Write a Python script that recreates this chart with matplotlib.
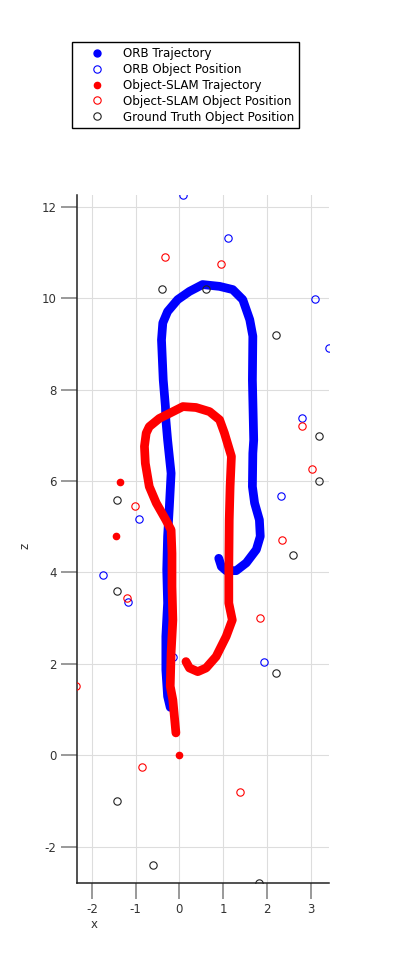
import numpy as np
import matplotlib
matplotlib.use('Agg')
import matplotlib.pyplot as plt

plt.rcParams['axes.unicode_minus'] = False

# ORB trajectory (x, z)
orb_x = [-0.21, -0.27, -0.31, -0.31, -0.27, -0.29, -0.27, -0.23, -0.19, -0.27, -0.31, -0.32,
         -0.37, -0.41, -0.38, -0.27, -0.04, 0.23, 0.53, 0.92, 1.22, 1.45, 1.61, 1.68,
         1.67, 1.70, 1.68, 1.67, 1.72, 1.83, 1.85, 1.76, 1.53, 1.30, 1.07, 0.96, 0.90]
orb_z = [1.05, 1.29, 1.87, 2.60, 3.33, 4.06, 4.79, 5.44, 6.17, 6.90, 7.34, 7.63,
         8.21, 9.09, 9.46, 9.71, 9.97, 10.15, 10.30, 10.26, 10.19, 9.97, 9.53, 9.17,
         8.21, 6.90, 6.61, 5.88, 5.52, 5.15, 4.79, 4.50, 4.21, 4.04, 4.04, 4.13, 4.31]

# Object-SLAM trajectory (x, z)
slam_x = [-0.08, -0.15, -0.21, -0.19, -0.15, -0.17, -0.17, -0.19, -0.31, -0.53, -0.69,
          -0.78, -0.80, -0.76, -0.69, -0.46, -0.23, 0.08, 0.38, 0.69, 0.92, 1.03,
          1.19, 1.16, 1.14, 1.13, 1.13, 1.21, 1.07, 0.84, 0.61, 0.42, 0.23, 0.15]
slam_z = [0.49, 1.21, 1.51, 2.24, 2.96, 3.69, 4.42, 4.93, 5.15, 5.52, 5.88,
          6.39, 6.76, 7.05, 7.19, 7.37, 7.48, 7.63, 7.61, 7.52, 7.34, 7.05,
          6.54, 5.88, 5.15, 4.06, 3.33, 2.96, 2.60, 2.16, 1.91, 1.83, 1.91, 2.05]
slam_out_x = [0.0, -1.36, -1.45]
slam_out_z = [0.0, 5.97, 4.80]

orb_obj_x = [0.08, 1.12, 3.10, 3.42, 2.81, 2.33, -0.93, -1.74, -1.17, 1.94, -0.14]
orb_obj_z = [12.26, 11.32, 9.98, 8.92, 7.39, 5.67, 5.17, 3.95, 3.35, 2.05, 2.14]

slam_obj_x = [-0.32, 0.96, 2.80, 3.03, -1.02, 2.35, -1.19, 1.84, -2.37, -0.86, 1.38]
slam_obj_z = [10.90, 10.75, 7.21, 6.26, 5.46, 4.71, 3.44, 3.00, 1.52, -0.25, -0.80]

gt_x = [-0.39, 0.61, 2.20, 3.19, 3.19, -1.42, 2.61, -1.42, 2.20, -1.42, -0.60, 1.81]
gt_z = [10.21, 10.20, 9.20, 6.99, 6.00, 5.59, 4.39, 3.60, 1.81, -1.00, -2.41, -2.79]

fig = plt.figure(figsize=(4.02, 9.72), dpi=100)
ax = fig.add_axes([0.1908, 0.0913, 0.6284, 0.7081])

ax.plot(orb_x, orb_z, color='#0000ff', lw=6.3, solid_capstyle='round', solid_joinstyle='round', zorder=2)
h1, = ax.plot([], [], 'o', color='#0000ff', ms=5, label='ORB Trajectory')
h2, = ax.plot(orb_obj_x, orb_obj_z, 'o', mfc='none', mec='#0000ff', ms=5.3, mew=0.8,
              label='ORB Object Position', zorder=3)
ax.plot(slam_x, slam_z, color='#ff0000', lw=6.3, solid_capstyle='round', solid_joinstyle='round', zorder=4)
h3, = ax.plot(slam_out_x, slam_out_z, 'o', color='#ff0000', ms=4.5, label='Object-SLAM Trajectory', zorder=4)
h4, = ax.plot(slam_obj_x, slam_obj_z, 'o', mfc='none', mec='#ff0000', ms=5.3, mew=0.8,
              label='Object-SLAM Object Position', zorder=5)
h5, = ax.plot(gt_x, gt_z, 'o', mfc='none', mec='#222222', ms=5.3, mew=0.8,
              label='Ground Truth Object Position', zorder=6)

ax.set_xlim(-2.35, 3.43)
ax.set_ylim(-2.80, 12.26)
ax.set_xticks([-2, -1, 0, 1, 2, 3])
ax.set_yticks([-2, 0, 2, 4, 6, 8, 10, 12])
ax.grid(True, color='#dddddd', lw=0.8)
ax.set_axisbelow(True)

for s in ['top', 'right']:
    ax.spines[s].set_visible(False)
for s in ['left', 'bottom']:
    ax.spines[s].set_color('#222222')
    ax.spines[s].set_linewidth(1.1)

ax.tick_params(direction='out', length=11.5, width=1.2, color='#888888',
               labelsize=8.5, labelcolor='#333333', pad=3)
ax.set_xlabel('x', fontsize=8.5, color='#333333')
ax.xaxis.set_label_coords(0.07, -0.05)
ax.set_ylabel('z', fontsize=8.5, color='#333333')
ax.yaxis.set_label_coords(-0.18, 0.49)

fig.legend(handles=[h1, h2, h3, h4, h5], loc='upper left',
           bbox_to_anchor=(71.7 / 402, 1 - 42.3 / 972), borderaxespad=0,
           fontsize=8.6, fancybox=False, edgecolor='black', framealpha=1,
           borderpad=0.4, handlelength=3.5, handletextpad=0.4, labelspacing=0.24)

fig.savefig('out.png', dpi=100)
